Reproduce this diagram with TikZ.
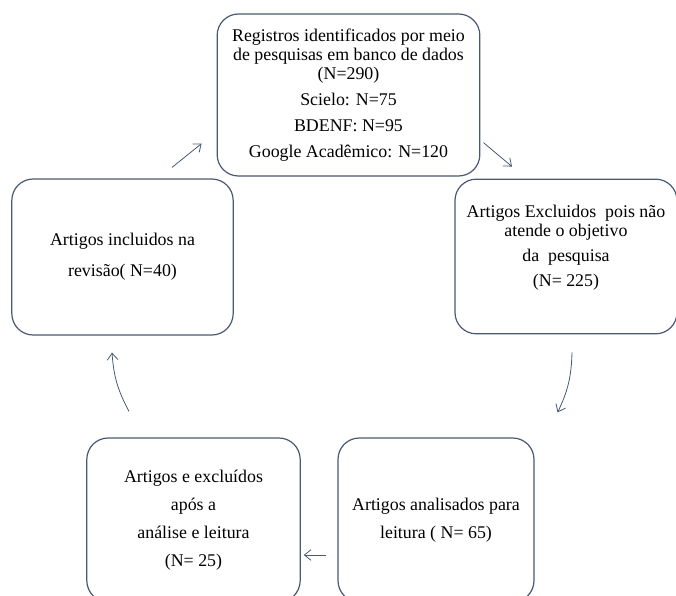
\documentclass[tikz,border=0pt]{standalone}
\usepackage{fontspec}
\setmainfont{Liberation Serif}
\usetikzlibrary{arrows.meta}
\definecolor{slate}{HTML}{4A5872}
\begin{document}
\begin{tikzpicture}[x=0.75pt,y=-0.75pt,
  box/.style={draw=slate,line width=0.9pt,rounded corners=16pt,inner sep=0pt,
    align=center,font=\fontsize{13.4}{14}\selectfont},
  link/.style={draw=slate,line width=0.6pt,-{Straight Barb[length=5pt,width=8pt]}}]
  \useasboundingbox (0,0) rectangle (676,596);
  \clip (0,0) rectangle (676,596);
  \node[box,minimum width=197pt,minimum height=121.5pt] (reg) at (348.5,95)
    {Registros identificados por meio\\de pesquisas em banco de dados\\(N=290)\\[5.5pt]
     Scielo: N=75\\[5.5pt]BDENF: N=95\\[5.5pt]Google Acadêmico: N=120};
  \node[box,minimum width=166.5pt,minimum height=116pt] (exc) at (566,256.5)
    {Artigos Excluidos~ pois não\\atende o objetivo\\[5pt]da~ pesquisa\\[5pt](N= 225)\\[2pt]\mbox{}};
  \node[box,minimum width=166pt,minimum height=117pt] (inc) at (122.5,257)
    {Artigos incluidos na\\[9pt]revisão( N=40)};
  \node[box,minimum width=160pt,minimum height=123pt] (exc2) at (193.5,520)
    {Artigos e excluídos\\[7pt]após a\\[7pt]análise e leitura\\[7pt](N= 25)};
  \node[box,minimum width=147pt,minimum height=123pt] (ana) at (436,520)
    {Artigos analisados para\\[7pt]leitura ( N= 65)};
  \draw[link] ([shift={(49.5,-11)}]inc.north) -- ([shift={(-15,-33)}]reg.south west);
  \draw[link] ([shift={(3,-34)}]reg.south east) -- ([shift={(-54,-12)}]exc.north);
  \draw[link] ([shift={(6,18)}]exc.south) to[bend left=12] ([shift={(23,-25)}]ana.north east);
  \draw[link] ([shift={(-11,35)}]ana.west) -- ([shift={(3,35)}]exc2.east);
  \draw[link] ([shift={(-64.5,-26)}]exc2.north) to[bend left=12] ([shift={(-10.5,17)}]inc.south);
\end{tikzpicture}
\end{document}
